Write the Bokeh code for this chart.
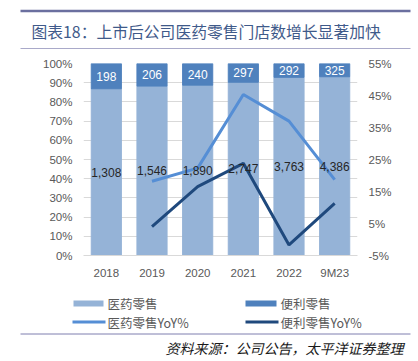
from bokeh.plotting import figure
from bokeh.models import ColumnDataSource, FactorRange, Range1d, LinearAxis, FixedTicker, PrintfTickFormatter
from bokeh.embed import file_html
from bokeh.resources import INLINE
from bokeh.core.properties import value

# ---------------- data ----------------
years = ["2018", "2019", "2020", "2021", "2022", "9M23"]
pharmacy_stores = [1308, 1546, 1890, 2747, 3763, 4386]
convenience_stores = [198, 206, 240, 297, 292, 325]
yoy_years = ["2019", "2020", "2021", "2022", "9M23"]
pharmacy_yoy = [18.2, 22.3, 45.3, 37.0, 18.7]
convenience_yoy = [4.0, 16.5, 23.8, -1.7, 11.3]
left_ticks = [0, 10, 20, 30, 40, 50, 60, 70, 80, 90, 100]
right_ticks = [-5, 5, 15, 25, 35, 45, 55]
legend_names = ["医药零售", "便利零售", "医药零售YoY%", "便利零售YoY%"]
title_text = "图表18：上市后公司医药零售门店数增长显著加快"
source_text = "资料来源：公司公告，太平洋证券整理"

# ---------------- styles ----------------
LIGHT = "#95B3D7"
DARK = "#4F81BD"
LIGHT_LINE = "#558ED5"
DARK_LINE = "#1F497D"
GRID = "#D9D9D9"
AX_TXT = "#595959"
LAT = value("Liberation Sans")
CJK = value("Noto Sans CJK SC")
W = 418


def blank(h):
    f = figure(width=W, height=h, x_range=Range1d(0, W), y_range=Range1d(h, 0),
               x_axis_type=None, y_axis_type=None, output_backend="svg",
               toolbar_location=None, min_border=0, min_border_left=0, min_border_right=0,
               min_border_top=0, min_border_bottom=0, outline_line_color=None)
    f.grid.visible = False
    return f


# ---------------- title ----------------
t = blank(55)
t.segment(x0=[20], y0=[10.5], x1=[410], y1=[10.5], line_color="#6B6F9F", line_width=2.5)
t.segment(x0=[20], y0=[48], x1=[410], y1=[48], line_color="#A9A9C9", line_width=1.2)
t.text(x=[31], y=[31], text=[title_text], text_font=CJK, text_font_size="15.8px",
       text_color="#3F5A8A", text_baseline="middle", text_align="left")

# ---------------- main chart ----------------
tot = [a + b for a, b in zip(pharmacy_stores, convenience_stores)]
ph_pct = [a / s * 100 for a, s in zip(pharmacy_stores, tot)]
cv_pct = [b / s * 100 for b, s in zip(convenience_stores, tot)]
src = ColumnDataSource(dict(
    years=years, ph=ph_pct, cv=cv_pct,
    ph_mid=[v / 2 for v in ph_pct],
    cv_mid=[p + c / 2 for p, c in zip(ph_pct, cv_pct)],
    ph_lab=[f"{v:,}" for v in pharmacy_stores],
    cv_lab=[f"{v:,}" for v in convenience_stores],
))

p = figure(width=W, height=235, x_range=FactorRange(factors=years, range_padding=0),
           y_range=Range1d(0, 100), output_backend="svg", toolbar_location=None,
           min_border_left=83, min_border_right=61, min_border_top=8, min_border_bottom=35,
           outline_line_color=None)
p.extra_y_ranges = {"yoy": Range1d(-5, 55)}

p.vbar_stack(["ph", "cv"], x="years", width=0.66, color=[LIGHT, DARK], source=src)

p.line(x=yoy_years, y=pharmacy_yoy, y_range_name="yoy", line_color=LIGHT_LINE, line_width=3)
p.line(x=yoy_years, y=convenience_yoy, y_range_name="yoy", line_color=DARK_LINE, line_width=3)

p.text(x="years", y="ph_mid", text="ph_lab", source=src, text_font=LAT, text_font_size="12px",
       text_color="#262626", text_align="center", text_baseline="middle")
p.text(x="years", y="cv_mid", text="cv_lab", source=src, text_font=LAT, text_font_size="12px",
       text_color="white", text_align="center", text_baseline="middle")

p.xgrid.visible = False
p.ygrid.ticker = FixedTicker(ticks=left_ticks)
p.ygrid.grid_line_color = GRID

p.yaxis[0].ticker = FixedTicker(ticks=left_ticks)
p.yaxis[0].formatter = PrintfTickFormatter(format="%d%%")

ra = LinearAxis(y_range_name="yoy", ticker=FixedTicker(ticks=right_ticks),
                formatter=PrintfTickFormatter(format="%d%%"))
p.add_layout(ra, "right")

for ax in [p.yaxis[0], ra]:
    ax.axis_line_color = None
    ax.major_tick_line_color = None
    ax.minor_tick_line_color = None
    ax.major_tick_out = 0
    ax.major_tick_in = 0
    ax.major_label_standoff = 11
    ax.major_label_text_font = "Liberation Sans"
    ax.major_label_text_font_size = "11.5px"
    ax.major_label_text_color = AX_TXT

xa = p.xaxis[0]
xa.axis_line_color = GRID
xa.major_tick_line_color = None
xa.major_tick_out = 0
xa.major_tick_in = 0
xa.major_label_standoff = 11
xa.major_label_text_font = "Liberation Sans"
xa.major_label_text_font_size = "11.5px"
xa.major_label_text_color = AX_TXT

# ---------------- legend + source ----------------
f = blank(71)
f.quad(left=[73, 245], right=[103, 276], top=[10, 10], bottom=[16, 16],
       fill_color=[LIGHT, DARK], line_color=None)
f.segment(x0=[72, 245], y0=[31.5, 31.5], x1=[105, 278], y1=[31.5, 31.5],
          line_color=[LIGHT_LINE, DARK_LINE], line_width=3)
f.text(x=[107, 280, 107, 280], y=[13, 13, 31.5, 31.5], text=legend_names, text_font=CJK,
       text_font_size="12.5px", text_color=AX_TXT, text_baseline="middle", text_align="left")
f.segment(x0=[20], y0=[43.5], x1=[410], y1=[43.5], line_color="#7F7FAF", line_width=1)
f.text(x=[403], y=[57], text=[source_text], text_font=CJK, text_font_size="14px",
       text_font_style="italic", text_color="#1A1A1A", text_baseline="middle", text_align="right")

open("out.html", "w").write(file_html([t, p, f], INLINE))
